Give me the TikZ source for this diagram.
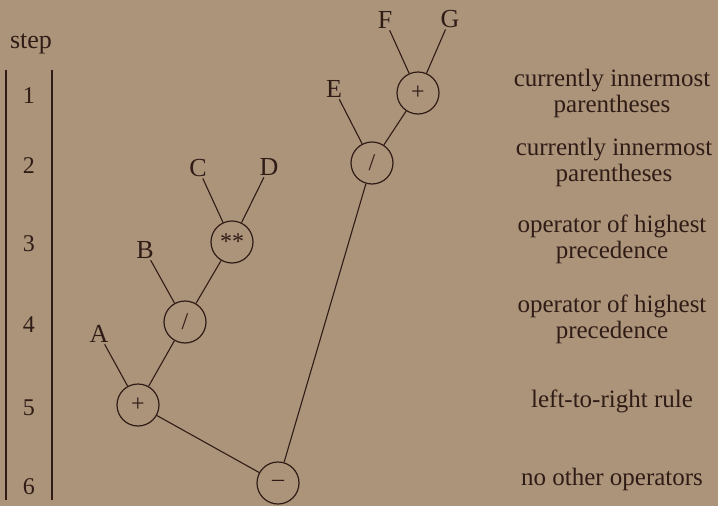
\documentclass[tikz,border=0pt]{standalone}
\usepackage{fontspec}
\setmainfont{Liberation Serif}
\definecolor{paper}{RGB}{172,148,122}
\definecolor{ink}{RGB}{48,28,22}
\begin{document}
\begin{tikzpicture}[x=1pt,y=-1pt,
  every node/.style={text=ink},
  op/.style={circle,draw=ink,line width=1.2pt,minimum size=42pt,inner sep=0pt,font=\fontsize{24}{24}\selectfont},
  leaf/.style={inner sep=1.5pt,font=\fontsize{26}{26}\selectfont},
  num/.style={font=\fontsize{24}{24}\selectfont},
  note/.style={align=center,font=\fontsize{25}{26}\selectfont},
  edge/.style={draw=ink,line width=1.1pt}]
  % page
  \fill[paper] (0,0) rectangle (718,506);
  \useasboundingbox (0,0) rectangle (718,506);

  % step column
  \node[num,font=\fontsize{26}{26}\selectfont] (steplabel) at (31,44) {step};
  \coordinate (lt) at (6,70);  \coordinate (lb) at (6,500);
  \coordinate (rt) at (52,70); \coordinate (rb) at (52,500);
  \draw[edge] (lt) -- (lb);
  \draw[edge] (rt) -- (rb);
  \node[num] (s1) at (29,96)  {1};
  \node[num] (s2) at (29,166) {2};
  \node[num] (s3) at (29,244) {3};
  \node[num] (s4) at (29,325) {4};
  \node[num] (s5) at (29,408) {5};
  \node[num] (s6) at (29,487) {6};

  % operator nodes
  \node[op] (addtop) at (418,93)  {+};
  \node[op] (divtop) at (372,163) {/};
  \node[op] (pow)    at (232,242) {**};
  \node[op] (divlow) at (185,322) {/};
  \node[op] (addlow) at (138,405) {+};
  \node[op] (sub)    at (278,483) {--};

  % operands
  \node[leaf] (F) at (385,20)  {F};
  \node[leaf] (G) at (450,19)  {G};
  \node[leaf] (E) at (334,89)  {E};
  \node[leaf] (C) at (198,168) {C};
  \node[leaf] (D) at (269,167) {D};
  \node[leaf] (B) at (145,250) {B};
  \node[leaf] (A) at (99,334)  {A};

  % tree edges
  \draw[edge] (F) -- (addtop);
  \draw[edge] (G) -- (addtop);
  \draw[edge] (E) -- (divtop);
  \draw[edge] (addtop) -- (divtop);
  \draw[edge] (C) -- (pow);
  \draw[edge] (D) -- (pow);
  \draw[edge] (B) -- (divlow);
  \draw[edge] (pow) -- (divlow);
  \draw[edge] (A) -- (addlow);
  \draw[edge] (divlow) -- (addlow);
  \draw[edge] (addlow) -- (sub);
  \draw[edge] (divtop) -- (sub);

  % reasons for each step
  \node[note] (r1) at (612,93)  {currently innermost\\parentheses};
  \node[note] (r2) at (614,162) {currently innermost\\parentheses};
  \node[note] (r3) at (612,239) {operator of highest\\precedence};
  \node[note] (r4) at (612,319) {operator of highest\\precedence};
  \node[note] (r5) at (612,401) {left-to-right rule};
  \node[note] (r6) at (612,479) {no other operators};
\end{tikzpicture}
\end{document}
